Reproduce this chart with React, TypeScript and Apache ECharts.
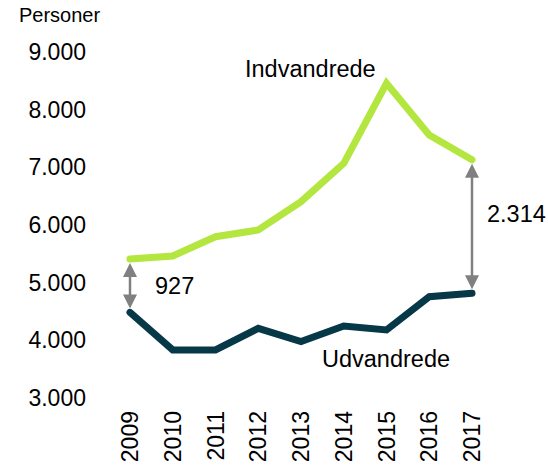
import React, { useEffect, useRef } from "react";
import * as echarts from "echarts";

const years = ["2009", "2010", "2011", "2012", "2013", "2014", "2015", "2016", "2017"];
const indvandrede = [5411, 5463, 5797, 5913, 6404, 7070, 8457, 7561, 7130];
const udvandrede = [4484, 3833, 3833, 4208, 3977, 4249, 4180, 4757, 4816];
// gap annotations: [year index, upper value, lower value, label]
const gapIndex = [0, 8];
const gapLabels = ["927", "2.314"];
const yTicks = { min: 3000, max: 9000, interval: 1000 };

const FONT = "'Liberation Sans', Arial, Helvetica, sans-serif";
const LIME = "#b3e63e";
const NAVY = "#063848";
const GREY = "#808080";

export default function App() {
  const ref = useRef<HTMLDivElement>(null);
  useEffect(() => {
    if (!ref.current) return;
    const chart = echarts.init(ref.current, undefined, { renderer: "svg" });
    const gapData = gapIndex.map((i, k) => [i, indvandrede[i], udvandrede[i], gapLabels[k]]);
    chart.setOption({
      animation: false,
      backgroundColor: "#ffffff",
      textStyle: { fontFamily: FONT },
      grid: { left: 130, right: 76, top: 52, bottom: 71, containLabel: false },
      xAxis: {
        type: "category",
        data: years,
        boundaryGap: false,
        axisLine: { show: false },
        axisTick: { show: false },
        axisLabel: { rotate: 90, fontSize: 23, color: "#000", margin: 13, fontFamily: FONT },
      },
      yAxis: {
        type: "value",
        min: yTicks.min,
        max: yTicks.max,
        interval: yTicks.interval,
        axisLine: { show: false },
        axisTick: { show: false },
        splitLine: { show: false },
        axisLabel: {
          fontSize: 23,
          color: "#000",
          margin: 44,
          fontFamily: FONT,
          formatter: (v: number) => {
            const s = String(Math.round(v));
            return s.replace(/\B(?=(\d{3})+(?!\d))/g, ".");
          },
        },
      },
      graphic: [
        {
          type: "text",
          left: 19,
          top: 5,
          style: { text: "Personer", fontSize: 20, fill: "#000", fontFamily: FONT },
        },
        {
          type: "text",
          left: 245,
          top: 57,
          style: { text: "Indvandrede", fontSize: 23.5, fill: "#000", fontFamily: FONT },
        },
        {
          type: "text",
          left: 322,
          top: 347,
          style: { text: "Udvandrede", fontSize: 23.5, fill: "#000", fontFamily: FONT },
        },
      ],
      series: [
        {
          type: "line",
          data: indvandrede,
          symbol: "none",
          lineStyle: { color: LIME, width: 7, cap: "round", join: "miter" },
          z: 3,
        },
        {
          type: "line",
          data: udvandrede,
          symbol: "none",
          lineStyle: { color: NAVY, width: 7, cap: "round", join: "miter" },
          z: 3,
        },
        {
          type: "custom",
          data: gapData,
          z: 2,
          renderItem: (params: any, api: any) => {
            const p1 = api.coord([api.value(0), api.value(1)]);
            const p2 = api.coord([api.value(0), api.value(2)]);
            const x = p1[0];
            const top = p1[1] + 4;
            const bot = p2[1] - 4;
            const hh = 14;
            const hw = 7;
            const label = gapLabels[params.dataIndex];
            const labelDx = params.dataIndex === 0 ? 25 : 15;
            const labelDy = params.dataIndex === 0 ? 0 : -13;
            return {
              type: "group",
              children: [
                {
                  type: "line",
                  shape: { x1: x, y1: top + hh - 1, x2: x, y2: bot - hh + 1 },
                  style: { stroke: GREY, lineWidth: 2.5 },
                },
                {
                  type: "polygon",
                  shape: { points: [[x, top], [x - hw, top + hh], [x + hw, top + hh]] },
                  style: { fill: GREY },
                },
                {
                  type: "polygon",
                  shape: { points: [[x, bot], [x - hw, bot - hh], [x + hw, bot - hh]] },
                  style: { fill: GREY },
                },
                {
                  type: "text",
                  x: x + labelDx,
                  y: (p1[1] + p2[1]) / 2 + labelDy,
                  style: {
                    text: label,
                    fontSize: 23.5,
                    fill: "#000",
                    fontFamily: FONT,
                    textVerticalAlign: "middle",
                    verticalAlign: "middle",
                  },
                },
              ],
            };
          },
        },
      ],
    });
    return () => chart.dispose();
  }, []);
  return <div ref={ref} style={{ width: 548, height: 469, position: "absolute", left: 0, top: 0 }} />;
}
